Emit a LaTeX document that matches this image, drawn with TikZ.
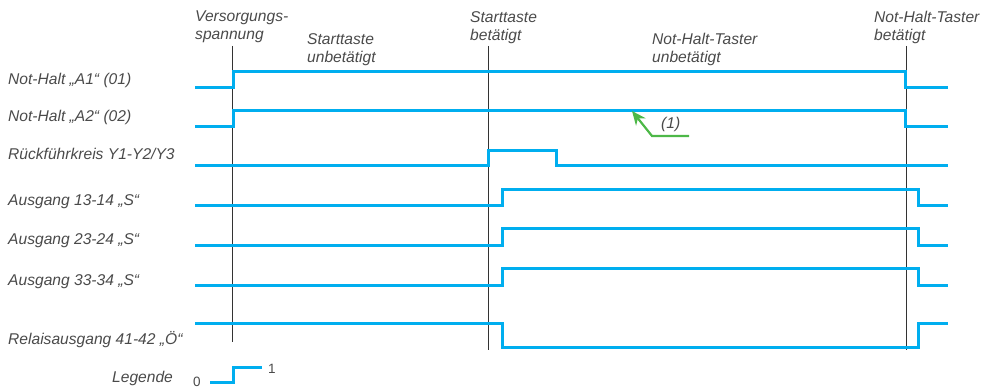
\documentclass[tikz,border=0pt]{standalone}
\usepackage{fontspec}
\setmainfont{Liberation Sans}
\usetikzlibrary{arrows.meta,positioning}
\definecolor{signal}{HTML}{00AEEF}
\definecolor{marker}{HTML}{4DB848}
\definecolor{labeltext}{HTML}{4A4A4A}
\definecolor{timeline}{HTML}{333333}

\begin{document}
\begin{tikzpicture}[x=1pt,y=-1pt,
  lbl/.style={font=\fontsize{15.6}{18}\selectfont\itshape, text=labeltext, inner sep=0pt, align=left},
  digit/.style={font=\fontsize{13.5}{15}\selectfont, text=labeltext, inner sep=0pt, anchor=base west},
  sig/.style={signal, line width=3pt},
  tline/.style={timeline, line width=0.8pt}]
  \useasboundingbox (0,0) rectangle (982,387);

  % Time marks
  \draw[tline] (232,46) -- (232,342);
  \draw[tline] (488,46) -- (488,350);
  \draw[tline] (906,46) -- (906,350);

  % Event texts above
  \node[lbl,anchor=north west] (vers) at (195,11) {Versorgungs-\\spannung};
  \node[lbl,anchor=north west] (stU) at (307,33) {Starttaste\\unbetätigt};
  \node[lbl,anchor=north west] (stB) at (470,11) {Starttaste\\betätigt};
  \node[lbl,anchor=north west] (nhU) at (652,33) {Not-Halt-Taster\\unbetätigt};
  \node[lbl,anchor=north west] (nhB) at (874,11) {Not-Halt-Taster\\betätigt};

  % Signal names
  \foreach \name/\y/\txt in {a1/85/{Not-Halt „A1“ (01)}, a2/122/{Not-Halt „A2“ (02)},
      yy/160/{Rückführkreis Y1-Y2/Y3}, s13/206/{Ausgang 13-14 „S“},
      s23/245/{Ausgang 23-24 „S“}, s33/285/{Ausgang 33-34 „S“},
      r41/344/{Relaisausgang 41-42 „Ö“}} {
    \node[lbl,anchor=base west] (\name) at (8,\y) {\txt};
  }

  % Signal traces: outer level / inner level / first edge / second edge
  \foreach \yo/\yi/\xa/\xb in {88/72/233/905, 127/111/233/905, 166/151/488/556,
      206/190/502/918, 246/229/502/918, 285/269/502/918, 323/347/502/918} {
    \draw[sig] (195,\yo) -- (\xa,\yo) -- (\xa,\yi) -- (\xb,\yi) -- (\xb,\yo) -- (948,\yo);
  }

  % Note (1)
  \node[lbl,anchor=base west] (note) at (661,129) {(1)};
  \coordinate (noteEnd) at (689,136);
  \coordinate (noteBend) at (652,136);
  \coordinate (noteTip) at (632,111);
  \draw[marker,line width=2.2pt,-{Stealth[length=14pt,width=12pt]}] (noteEnd) -- (noteBend) -- (noteTip);

  % Legend
  \node[lbl,anchor=base west] (leg) at (112,382) {Legende};
  \node[digit] (zero) at (193,386) {0};
  \node[digit] (one) at (268,373) {1};
  \draw[sig] (210,382) -- (233,382) -- (233,367) -- (262,367);
\end{tikzpicture}
\end{document}
